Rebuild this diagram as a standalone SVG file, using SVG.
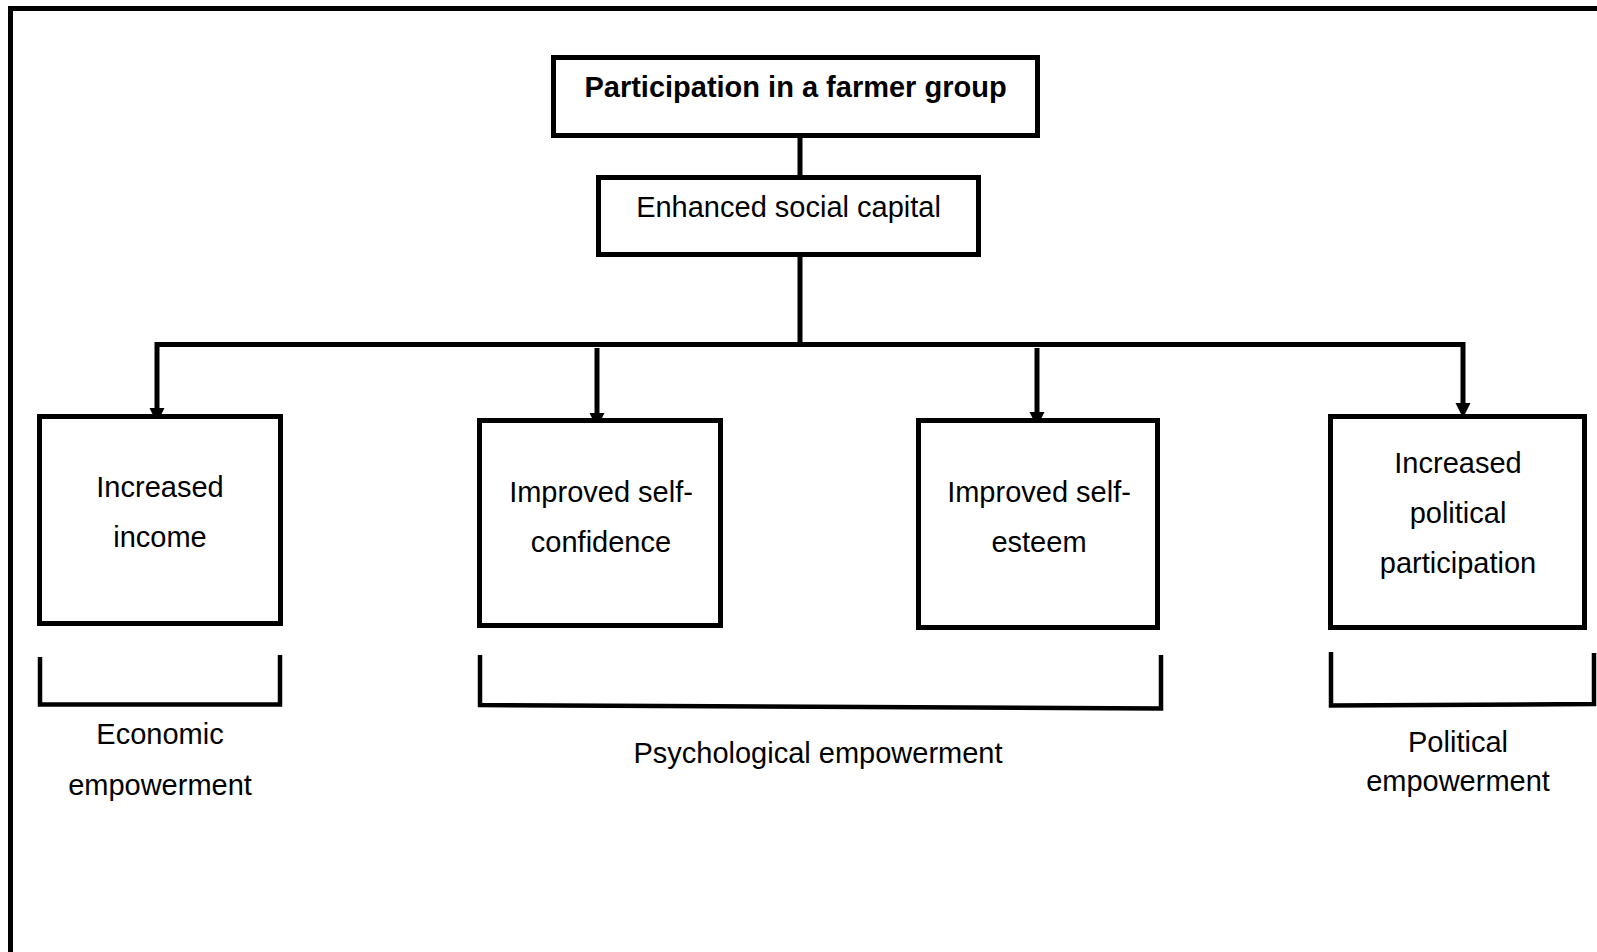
<svg xmlns="http://www.w3.org/2000/svg" width="1597" height="952" viewBox="0 0 1597 952">
  <style>
    .box { fill: #ffffff; stroke: #000000; stroke-width: 5; }
    .line { fill: none; stroke: #000000; stroke-width: 5; stroke-linejoin: miter; }
    .bracket { fill: none; stroke: #000000; stroke-width: 4.5; stroke-linejoin: miter; }
    .head { fill: #000000; }
    text { font-family: "Liberation Sans", Arial, sans-serif; font-size: 29px; fill: #000000; text-anchor: middle; }
    .bold { font-weight: bold; }
  </style>

  <rect width="1597" height="952" fill="#ffffff"/>

  <!-- outer frame (top and left edges) -->
  <path id="frame" class="line" d="M10.5,952 L10.5,8.5 L1597,8.5"/>

  <!-- connectors -->
  <g id="connectors">
    <line class="line" x1="800" y1="129" x2="800" y2="180"/>
    <line class="line" x1="800" y1="255" x2="800" y2="345"/>
    <path class="line" d="M157,410 L157,344.5 L1463,344.5 L1463,405"/>
    <line class="line" x1="597" y1="348" x2="597" y2="415"/>
    <line class="line" x1="1037" y1="348" x2="1037" y2="414"/>
    <polygon class="head" points="149.5,408 164.5,408 157,423"/>
    <polygon class="head" points="589.5,413 604.5,413 597,428"/>
    <polygon class="head" points="1029.5,412 1044.5,412 1037,427"/>
    <polygon class="head" points="1455.5,403 1470.5,403 1463,418"/>
  </g>

  <g id="node-participation">
    <rect class="box" x="553.5" y="57.5" width="484" height="78"/>
    <text class="bold" x="795.5" y="97">Participation in a farmer group</text>
  </g>

  <g id="node-social-capital">
    <rect class="box" x="598.5" y="177.5" width="380" height="77"/>
    <text x="788.5" y="217">Enhanced social capital</text>
  </g>

  <g id="node-income">
    <rect class="box" x="39.5" y="416.5" width="241" height="207"/>
    <text x="160" y="497">Increased</text>
    <text x="160" y="547">income</text>
  </g>

  <g id="node-self-confidence">
    <rect class="box" x="479.5" y="420.5" width="241" height="205"/>
    <text x="601" y="502">Improved self-</text>
    <text x="601" y="552">confidence</text>
  </g>

  <g id="node-self-esteem">
    <rect class="box" x="918.5" y="420.5" width="239" height="207"/>
    <text x="1039" y="502">Improved self-</text>
    <text x="1039" y="552">esteem</text>
  </g>

  <g id="node-political-participation">
    <rect class="box" x="1330.5" y="416.5" width="254" height="211"/>
    <text x="1458" y="473">Increased</text>
    <text x="1458" y="523">political</text>
    <text x="1458" y="573">participation</text>
  </g>

  <!-- groupings under the outcome boxes -->
  <g id="group-economic">
    <path class="bracket" d="M40,657 L40,704.5 L280,704.5 L280,655"/>
    <text x="160" y="744">Economic</text>
    <text x="160" y="795">empowerment</text>
  </g>

  <g id="group-psychological">
    <path class="bracket" d="M480,655 L480,705 L1161,708.5 L1161,655"/>
    <text x="818" y="763">Psychological empowerment</text>
  </g>

  <g id="group-political">
    <path class="bracket" d="M1331,652 L1331,705.5 L1594,704 L1594,653"/>
    <text x="1458" y="752">Political</text>
    <text x="1458" y="791">empowerment</text>
  </g>
</svg>
